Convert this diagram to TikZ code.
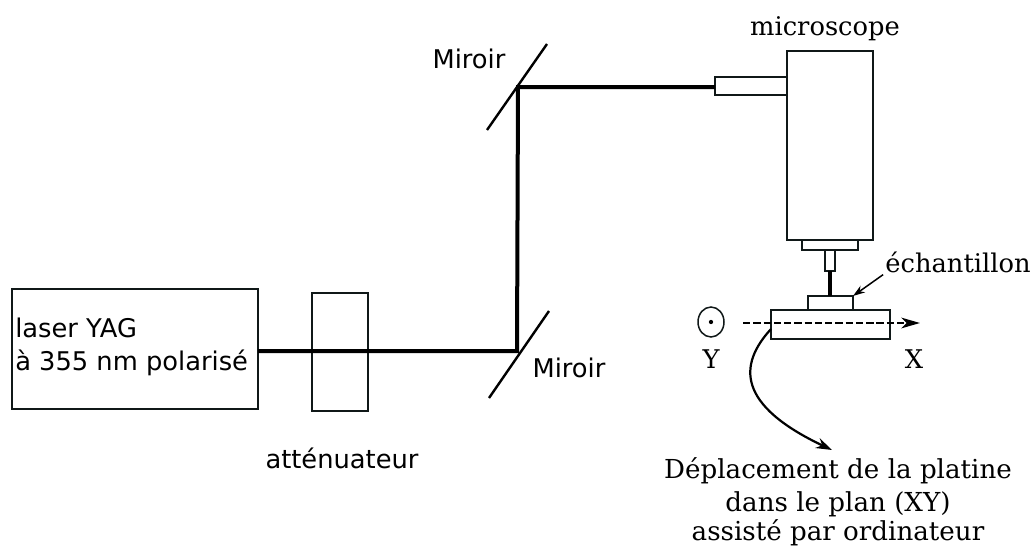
\documentclass[tikz,border=0pt]{standalone}
\usepackage{fontspec}
\setmainfont{DejaVu Sans}
\newfontfamily\serifface{DejaVu Serif}
\usetikzlibrary{arrows.meta,shapes.geometric}
\definecolor{ink}{HTML}{101818}
\tikzset{
  x=0.75pt,y=-0.75pt,
  box/.style={draw=ink,line width=1.5pt*0.75,inner sep=0pt,outer sep=0pt,minimum width=0pt},
  beam/.style={draw=black,line width=4pt*0.75},
  mirror/.style={draw=black,line width=2.4pt*0.75},
  sanslabel/.style={font=\fontsize{19.3}{22}\selectfont,inner sep=0pt},
  seriflabel/.style={font=\serifface\fontsize{19.3}{23.5}\selectfont,inner sep=0pt,align=center},
  caption/.style={font=\serifface\fontsize{19.6}{23.5}\selectfont,inner sep=0pt,align=center},
  thin arrow/.style={draw=black,line width=1.5pt*0.75,-{Stealth[length=9pt,width=6pt]}},
}
\newcommand{\rectnode}[5]{\node[box,anchor=north west,minimum width=#4*0.75pt-#2*0.75pt,minimum height=#5*0.75pt-#3*0.75pt] (#1) at (#2,#3) {};}
\begin{document}
\begin{tikzpicture}
\useasboundingbox (0,0) rectangle (1032,546);
\rectnode{laser}{12}{289}{258}{409}
\rectnode{att}{312}{293}{368}{411}
\rectnode{body}{787}{51}{873}{240}
\rectnode{tube}{715}{77}{787}{95}
\rectnode{lower}{802}{240}{858}{250}
\rectnode{obj}{825}{250}{835}{271}
\rectnode{sample}{808}{296}{853}{310}
\rectnode{stage}{771}{310}{890}{339}
\coordinate (m1a) at (487,130); \coordinate (m1b) at (547,44);
\coordinate (m2a) at (489,398); \coordinate (m2b) at (549,311);
\draw[mirror] (m1a) -- (m1b);
\draw[mirror] (m2a) -- (m2b);
\coordinate (c2) at (517,351); \coordinate (c1) at (518,87);
\draw[beam] (laser.east |- c2) -- (c2) -- (c1) -- (tube.west |- c1);
\draw[beam] (obj.south) -- (obj.south |- sample.north);
\node[draw=ink,line width=1.5pt*0.75,ellipse,minimum width=26*0.75pt,minimum height=30*0.75pt,inner sep=0pt] (yc) at (711,322) {};
\fill (yc.center) circle (1.6pt);
\coordinate (xs) at (743,323); \coordinate (xe) at (920,323);
\draw[draw=black,line width=2.2pt*0.75,dash pattern=on 5.5pt off 2.2pt,-{Stealth[length=14pt,width=8pt,inset=4pt]}] (xs) -- (xe);
\coordinate (ca) at (771,329); \coordinate (ce) at (832,450);
\draw[draw=black,line width=2.2pt*0.75,-{Stealth[length=12pt,width=8pt]}] (stage.west |- ca) .. controls (738,365) and (737,405) .. (ce);
\node[sanslabel,anchor=base west] (ltxt) at (15,337) {laser YAG};
\node[sanslabel,anchor=base west] (ltxt2) at (15,370) {à 355 nm polarisé};
\node[sanslabel,anchor=base] (attl) at (342,468) {atténuateur};
\node[sanslabel,anchor=base] (mir1) at (469,68) {Miroir};
\node[sanslabel,anchor=base] (mir2) at (569,377) {Miroir};
\node[seriflabel,anchor=base] (mic) at (825,35) {microscope};
\node[seriflabel,anchor=base] (ech) at (958,272) {échantillon};
\draw[thin arrow] (ech.south west) ++(-2,2) -- (sample.north east);
\node[seriflabel,anchor=base] (yl) at (711,368) {Y};
\node[seriflabel,anchor=base] (xl) at (914,368) {X};
\node[caption,anchor=base] (dep) at (838,478) {Déplacement de la platine};
\node[caption,anchor=base] (dep2) at (838,511) {dans le plan (XY)};
\node[caption,anchor=base] (dep3) at (838,540) {assisté par ordinateur};
\end{tikzpicture}
\end{document}
